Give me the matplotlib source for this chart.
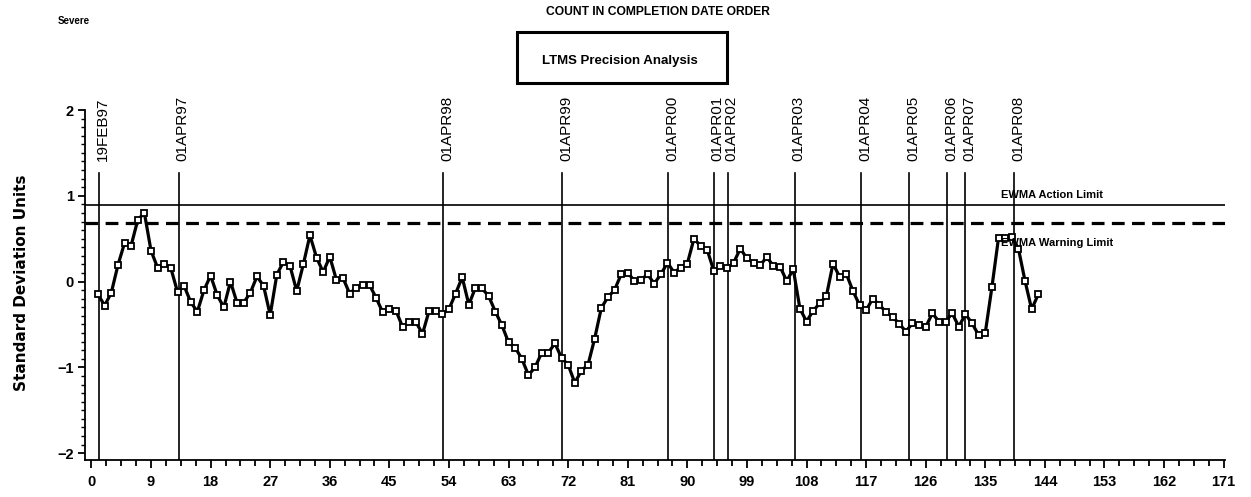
import numpy as np
import matplotlib
matplotlib.use("Agg")
import matplotlib.pyplot as plt
import matplotlib.transforms as mtransforms
from matplotlib.patches import Rectangle
from matplotlib.ticker import MultipleLocator

# EWMA values in completion-date order (count 1..N)
ewma = [
    -0.15, -0.28, -0.13, 0.19, 0.45, 0.42, 0.72, 0.80, 0.36, 0.16,
    0.21, 0.155, -0.12, -0.05, -0.24, -0.35, -0.10, 0.07, -0.16, -0.30,
    0.00, -0.25, -0.245, -0.13, 0.06, -0.05, -0.39, 0.08, 0.23, 0.18,
    -0.11, 0.20, 0.54, 0.28, 0.11, 0.29, 0.02, 0.04, -0.14, -0.07,
    -0.04, -0.04, -0.19, -0.36, -0.32, -0.34, -0.53, -0.47, -0.47, -0.61,
    -0.34, -0.34, -0.38, -0.32, -0.14, 0.05, -0.27, -0.07, -0.08, -0.17,
    -0.35, -0.51, -0.71, -0.77, -0.90, -1.09, -1.00, -0.83, -0.83, -0.72,
    -0.89, -0.97, -1.18, -1.04, -0.97, -0.665, -0.31, -0.18, -0.10, 0.085,
    0.105, 0.007, 0.019, 0.085, -0.024, 0.085, 0.22, 0.105, 0.163, 0.21,
    0.50, 0.415, 0.37, 0.124, 0.18, 0.155, 0.22, 0.385, 0.27, 0.22,
    0.19, 0.287, 0.18, 0.175, 0.007, 0.143, -0.315, -0.466, -0.34, -0.253,
    -0.168, 0.21, 0.054, 0.093, -0.109, -0.272, -0.335, -0.199, -0.272, -0.354,
    -0.412, -0.49, -0.583, -0.486, -0.505, -0.53, -0.37, -0.466, -0.466, -0.37,
    -0.525, -0.38, -0.486, -0.626, -0.595, -0.064, 0.512, 0.512, 0.52, 0.385,
    0.007, -0.323, -0.148,
]
count = np.arange(1, len(ewma) + 1)

# date reference lines
date_labels = ["19FEB97", "01APR97", "01APR98", "01APR99", "01APR00", "01APR01",
               "01APR02", "01APR03", "01APR04", "01APR05", "01APR06", "01APR07",
               "01APR08"]
date_pos = [1.1, 13.2, 53.1, 71.1, 87.1, 94.0, 96.1, 106.2, 116.3, 123.5,
            129.2, 132.0, 139.4]

action_limit = 0.89
warning_limit = 0.68

narrow = ["Liberation Sans Narrow", "Liberation Sans", "DejaVu Sans"]
plain = ["Liberation Sans", "DejaVu Sans"]

fig = plt.figure(figsize=(12.51, 4.97), dpi=100)
ax = fig.add_axes([85 / 1251, 1 - 460 / 497, 1140 / 1251, 350 / 497])

ax.set_xlim(-0.97, 171.2)
ax.set_ylim(-2.08, 2.0)

# limit lines
ax.axhline(action_limit, color="black", lw=1.2)
ax.axhline(warning_limit, color="black", lw=2.3, dashes=(4.0, 2.3))

# date lines with rotated labels
lbl_tf = mtransforms.offset_copy(ax.transData, fig=fig, x=4, y=0, units="dots")
for pos, lab in zip(date_pos, date_labels):
    ax.plot([pos, pos], [-2.08, 1.27], color="black", lw=1.2)
    ax.text(pos, 1.40, lab, rotation=90, ha="center", va="bottom",
            fontsize=11, family=plain, transform=lbl_tf, clip_on=False)

ax.plot(count, ewma, color="black", lw=2.3, marker="s", markersize=5,
        markerfacecolor="white", markeredgecolor="black", markeredgewidth=1.3,
        zorder=3)

ax.text(137.4, 0.95, "EWMA Action Limit", fontsize=8, fontweight="bold",
        family=narrow, ha="left", va="bottom")
ax.text(137.4, 0.445, "EWMA Warning Limit", fontsize=8, fontweight="bold",
        family=narrow, ha="left", va="center")

# axes styling
for side in ["top", "right"]:
    ax.spines[side].set_visible(False)
for side in ["left", "bottom"]:
    ax.spines[side].set_linewidth(1.3)

ax.xaxis.set_major_locator(MultipleLocator(9))
ax.xaxis.set_minor_locator(MultipleLocator(2.25))
ax.yaxis.set_major_locator(MultipleLocator(1))
ax.yaxis.set_minor_locator(MultipleLocator(0.1))
ax.tick_params(axis="x", which="major", direction="out", length=6, width=1.3, pad=5)
ax.tick_params(axis="x", which="minor", direction="out", length=4, width=1.3)
ax.tick_params(axis="y", which="major", direction="out", length=5, width=1.3, pad=3)
ax.tick_params(axis="y", which="minor", direction="out", length=3, width=1.0)
ax.yaxis.set_major_formatter(plt.FuncFormatter(lambda v, p: f"{v:.0f}".replace("-", "\u2212")))
for t in ax.get_xticklabels() + ax.get_yticklabels():
    t.set_family(narrow)
    t.set_fontweight("bold")
    t.set_fontsize(10.5)

fig.text(22 / 1251, 1 - 283 / 497, "Standard Deviation Units", rotation=90,
         ha="center", va="center", fontsize=11, fontweight="bold",
         family="DejaVu Sans")

fig.text(658 / 1251, 1 - 12 / 497, "COUNT IN COMPLETION DATE ORDER", ha="center",
         va="center", fontsize=8.7, fontweight="bold", family=narrow)
fig.text(74 / 1251, 1 - 21 / 497, "Severe", ha="center", va="center",
         fontsize=7, fontweight="bold", family=narrow)

box = Rectangle((517 / 1251, 1 - 83 / 497), 210 / 1251, 51 / 497,
                transform=fig.transFigure, fill=False, lw=2.2, edgecolor="black")
fig.patches.append(box)
fig.text(620 / 1251, 1 - 61 / 497, "LTMS Precision Analysis", ha="center",
         va="center", fontsize=9.5, fontweight="bold", family=narrow)

fig.savefig("out.png", dpi=100)
